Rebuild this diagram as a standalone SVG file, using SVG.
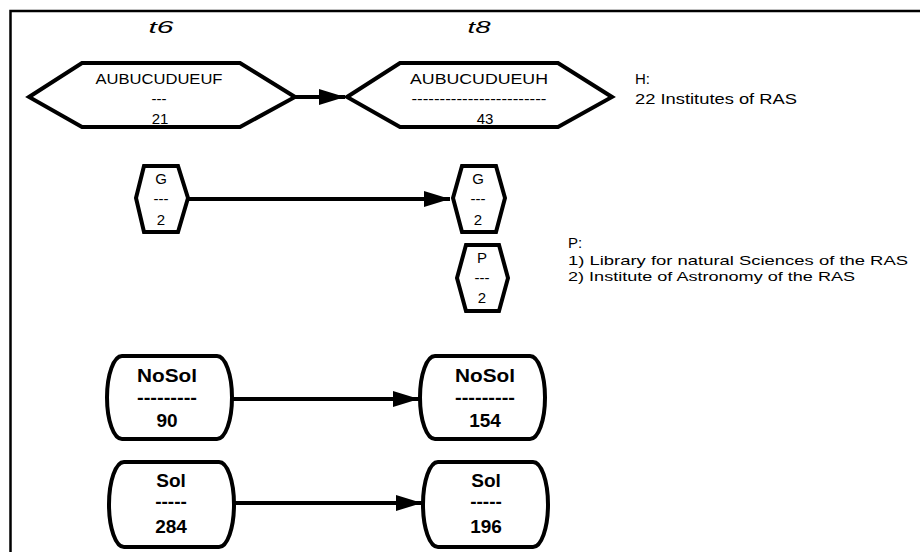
<svg xmlns="http://www.w3.org/2000/svg" width="920" height="552" viewBox="0 0 920 552">
<style>
.shape{fill:#fff;stroke:#000;stroke-width:4;stroke-linejoin:miter}
.t{font-family:"Liberation Sans",Arial,sans-serif;font-size:15px;fill:#000;text-anchor:middle}
.b{font-family:"Liberation Sans",Arial,sans-serif;font-size:19px;font-weight:bold;fill:#000;text-anchor:middle}
.n{font-family:"Liberation Sans",Arial,sans-serif;font-size:15px;fill:#000}
.s{font-family:"Liberation Sans",Arial,sans-serif;font-size:13px;fill:#000}
.h{font-family:"Liberation Sans",Arial,sans-serif;font-size:17px;font-style:italic;fill:#000;text-anchor:middle}
.c{stroke:#000;stroke-width:4;fill:none}
</style>
<defs>
<marker id="ah" markerUnits="userSpaceOnUse" viewBox="0 0 26 16" refX="26" refY="8" markerWidth="26" markerHeight="16" orient="auto">
<path d="M0,0 L26,8 L0,16 Z" fill="#000"/>
</marker>
</defs>
<rect x="0" y="0" width="920" height="552" fill="#fff"/>
<g id="frame">
<path d="M10.5,552 V11 H920" fill="none" stroke="#000" stroke-width="2.5"/>
</g>
<g id="headers">
<text class="h" x="161" y="33" textLength="25" lengthAdjust="spacingAndGlyphs">t6</text>
<text class="h" x="479" y="33" textLength="23" lengthAdjust="spacingAndGlyphs">t8</text>
</g>
<g id="connectors">
<line class="c" x1="295" y1="97" x2="345" y2="97" marker-end="url(#ah)"/>
<line class="c" x1="188" y1="199" x2="450" y2="199" marker-end="url(#ah)"/>
<line class="c" x1="232" y1="399" x2="419" y2="399" marker-end="url(#ah)"/>
<line class="c" x1="235" y1="503" x2="422" y2="503" marker-end="url(#ah)"/>
</g>
<g id="hexA">
<polygon class="shape" points="29,97 82,63 240,63 295,97 240,127 82,127"/>
<text class="t" x="159" y="84" textLength="127" lengthAdjust="spacingAndGlyphs">AUBUCUDUEUF</text>
<text class="t" x="159" y="104">---</text>
<text class="t" x="160" y="124">21</text>
</g>
<g id="hexB">
<polygon class="shape" points="347,97 400,63 558,63 612,97 558,127 400,127"/>
<text class="t" x="479" y="84" textLength="138" lengthAdjust="spacingAndGlyphs">AUBUCUDUEUH</text>
<text class="t" x="479" y="104" textLength="135" lengthAdjust="spacingAndGlyphs">------------------------</text>
<text class="t" x="485" y="124">43</text>
</g>
<g id="noteH">
<text class="n" x="635" y="84">H:</text>
<text class="n" x="635" y="104" textLength="162" lengthAdjust="spacingAndGlyphs">22 Institutes of RAS</text>
</g>
<g id="G1">
<polygon class="shape" points="136,198 144,166 178,166 188,198 178,232 144,232"/>
<text class="t" x="161" y="184">G</text>
<text class="t" x="161" y="204">---</text>
<text class="t" x="161" y="225">2</text>
</g>
<g id="G2">
<polygon class="shape" points="453,198 462,166 496,166 505,198 496,232 462,232"/>
<text class="t" x="478" y="184">G</text>
<text class="t" x="478" y="204">---</text>
<text class="t" x="478" y="225">2</text>
</g>
<g id="P">
<polygon class="shape" points="457,278 466,245 499,245 508,278 499,311 466,311"/>
<text class="t" x="482" y="263">P</text>
<text class="t" x="482" y="283">---</text>
<text class="t" x="482" y="303">2</text>
</g>
<g id="noteP">
<text class="n" x="568" y="248">P:</text>
<text class="s" x="568" y="265" textLength="340" lengthAdjust="spacingAndGlyphs">1) Library for natural Sciences of the RAS</text>
<text class="s" x="568" y="281" textLength="287" lengthAdjust="spacingAndGlyphs">2) Institute of Astronomy of the RAS</text>
</g>
<g id="NoSol1">
<path class="shape" d="M122,356 H217 A15,41.5 0 0 1 217,439 H122 A15,41.5 0 0 1 122,356 Z"/>
<text class="b" x="167" y="382" textLength="60" lengthAdjust="spacingAndGlyphs">NoSol</text>
<text class="b" x="167" y="404" textLength="60" lengthAdjust="spacingAndGlyphs">---------</text>
<text class="b" x="167" y="427">90</text>
</g>
<g id="NoSol2">
<path class="shape" d="M435,356 H530 A15,41.5 0 0 1 530,439 H435 A15,41.5 0 0 1 435,356 Z"/>
<text class="b" x="485" y="382" textLength="60" lengthAdjust="spacingAndGlyphs">NoSol</text>
<text class="b" x="485" y="404" textLength="60" lengthAdjust="spacingAndGlyphs">---------</text>
<text class="b" x="485" y="427">154</text>
</g>
<g id="Sol1">
<path class="shape" d="M124,462 H219 A15,42.5 0 0 1 219,547 H124 A15,42.5 0 0 1 124,462 Z"/>
<text class="b" x="171" y="487">Sol</text>
<text class="b" x="171" y="508">-----</text>
<text class="b" x="171" y="533">284</text>
</g>
<g id="Sol2">
<path class="shape" d="M438,462 H533 A15,42.5 0 0 1 533,547 H438 A15,42.5 0 0 1 438,462 Z"/>
<text class="b" x="486" y="487">Sol</text>
<text class="b" x="486" y="508">-----</text>
<text class="b" x="486" y="533">196</text>
</g>
</svg>
